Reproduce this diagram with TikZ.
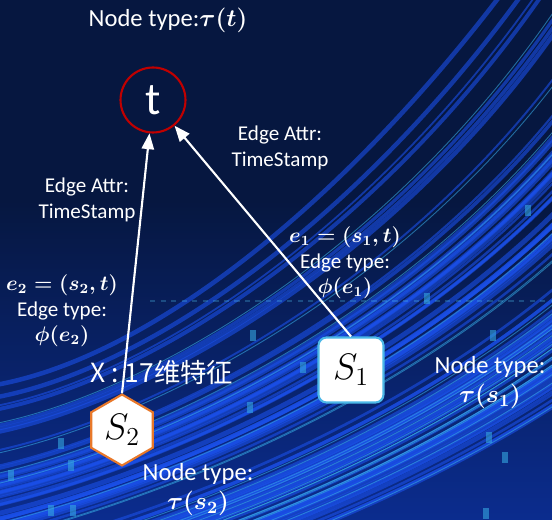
\documentclass[tikz,border=0pt]{standalone}
\usepackage{fix-cm}
\usepackage{fontspec}
\setmainfont{Carlito}
\newfontfamily\cjk{Noto Sans CJK SC}
\usetikzlibrary{shapes.geometric,arrows.meta}
\definecolor{bgnavy}{HTML}{061740}
\definecolor{bgblue}{HTML}{0B2C8E}
\definecolor{streakc}{HTML}{35A6E0}
\definecolor{streakb}{HTML}{1A4FE8}
\definecolor{tred}{HTML}{C00000}
\definecolor{sblue}{HTML}{4CB8E8}
\definecolor{sorange}{HTML}{E8782A}

\begin{document}
\begin{tikzpicture}[x=0.02cm,y=-0.02cm,
    lbl/.style={text=white,align=center,font=\fontsize{12}{14.5}\selectfont\boldmath},
    typelbl/.style={text=white,align=center,font=\fontsize{14}{16.5}\selectfont\boldmath},
    bigmath/.style={font=\fontsize{21}{24}\selectfont},
    edge/.style={white,line width=1.2pt,-{Triangle[length=9pt,width=7pt]}}]
    % background
    \useasboundingbox (0,0) rectangle (552,520);
    \fill[bgnavy] (0,0) rectangle (552,520);
    \begin{scope}
    \clip (0,0) rectangle (552,520);
    \shade[top color=bgnavy, bottom color=bgblue] (0,200) rectangle (552,520);
    \pgfmathsetseed{11}
    \foreach \i in {1,...,80} {
        \pgfmathsetmacro\s{sqrt(rnd)}
        \pgfmathsetmacro\w{1+1.8*rnd}
        \draw[streakb, opacity=0.6, line width=\w pt] (-20,{380+260*\s}) .. controls (140,{360+230*\s}) and ({330+420*\s},{200+260*\s}) .. ({500+420*\s},-20);
    }
    \foreach \i in {1,...,24} {
        \pgfmathsetmacro\s{sqrt(rnd)}
        \draw[streakc, opacity=0.6, line width=0.5pt] (-20,{380+260*\s}) .. controls (140,{360+230*\s}) and ({330+420*\s},{200+260*\s}) .. ({500+420*\s},-20);
    }
    \draw[sblue, dashed, opacity=0.3, line width=1pt] (150,301) -- (552,301);
    \foreach \p in {(58,438),(68,460),(48,505),(70,505),(525,205),(424,293),(490,330),(486,432),(502,452),(483,508),(250,330),(247,402),(8,470),(300,362)}
        \fill[streakc, opacity=0.6] \p rectangle ++(6,11);
    \end{scope}

    \node[typelbl] (ttype) at (168,20) {Node type:$\tau(t)$};
    \node[circle, draw=tred, line width=1.2pt, minimum size=1.3cm, text=white,
        font=\fontsize{26}{28}\selectfont] (t) at (153,100) {t};
    \node[draw=sblue, fill=white, rounded corners=0.16cm, line width=1.2pt,
        minimum size=1.3cm, bigmath] (s1) at (351,370) {$S_1$};
    \node[regular polygon, regular polygon sides=6, shape border rotate=30,
        draw=sorange, fill=white, line width=1.2pt, minimum size=1.42cm,
        inner sep=0pt, bigmath] (s2) at (122,430) {$S_2$};

    \draw[edge] (s2.north) -- (t);
    \draw[edge] (s1.north) -- (t);

    \node[lbl] (attr2) at (87,200) {Edge Attr:\\TimeStamp};
    \node[lbl] (attr1) at (280,148) {Edge Attr:\\TimeStamp};
    \node[lbl] (e2) at (62,311) {$e_2=(s_2,t)$\\Edge type:\\$\phi(e_2)$};
    \node[lbl] (e1) at (345,263) {$e_1=(s_1,t)$\\Edge type:\\$\phi(e_1)$};
    \node[text=white, font=\cjk\fontsize{15}{18}\selectfont] (feat) at (162,372) {X : 17维特征};
    \node[typelbl] (s1type) at (490,383) {Node type:\\$\tau(s_1)$};
    \node[typelbl] (s2type) at (198,490) {Node type:\\$\tau(s_2)$};
\end{tikzpicture}
\end{document}
